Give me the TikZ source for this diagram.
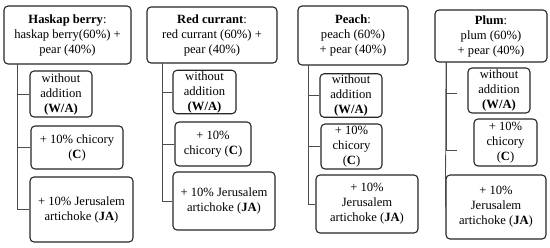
\documentclass[tikz,border=0pt]{standalone}
\usepackage{fontspec}
\setmainfont{Liberation Serif}
\colorlet{boxline}{black!85}
\colorlet{treeline}{black!70}

\begin{document}
\begin{tikzpicture}[x=1pt, y=-1pt,
    mainbox/.style={draw=boxline, line width=1.1pt, rounded corners=4pt, align=center,
      inner sep=1pt, font=\fontsize{12.6}{15}\selectfont},
    subbox/.style={mainbox},
    trunk/.style={draw=treeline, line width=0.8pt}]
    \useasboundingbox (0,0) rectangle (550,247);
    %--- Haskap berry ---
    \node[mainbox, minimum width=127pt, minimum height=58pt] (hk) at (67.5,35){\textbf{Haskap berry}:\\haskap berry(60\%) +\\pear (40\%)};
    \node[subbox, minimum width=62pt, minimum height=46pt] (hkWA) at (61,94){without\\addition\\\textbf{(W/A)}};
    \node[subbox, minimum width=92pt, minimum height=43pt] (hkC) at (77,147.5){+ 10\% chicory\\(\textbf{C})};
    \node[subbox, minimum width=103pt, minimum height=65pt] (hkJA) at (81.5,209.5){+ 10\% Jerusalem\\artichoke (\textbf{JA})};
    \coordinate (hkT) at (17,64);
    \draw[trunk] (hkT) |- (hkWA.west);
    \draw[trunk] (hkT) |- (hkC.west);
    \draw[trunk] (hkT) |- (hkJA.west);
    %--- Red currant ---
    \node[mainbox, minimum width=130pt, minimum height=56pt] (rc) at (212,35){\textbf{Red currant}:\\red currant (60\%) +\\pear (40\%)};
    \node[subbox, minimum width=63pt, minimum height=42pt] (rcWA) at (204.5,92){without\\addition\\\textbf{(W/A)}};
    \node[subbox, minimum width=76pt, minimum height=44pt] (rcC) at (213,144){+ 10\%\\chicory (\textbf{C})};
    \node[subbox, minimum width=102pt, minimum height=58pt] (rcJA) at (224,201){+ 10\% Jerusalem\\artichoke (\textbf{JA})};
    \coordinate (rcT) at (162,63);
    \draw[trunk] (rcT) |- (rcWA.west);
    \draw[trunk] (rcT) |- (rcC.west);
    \draw[trunk] (rcT) |- (rcJA.west);
    %--- Peach ---
    \node[mainbox, minimum width=110pt, minimum height=59pt] (pc) at (353,35.5){\textbf{Peach}:\\peach (60\%)\\+ pear (40\%)};
    \node[subbox, minimum width=62pt, minimum height=43pt] (pcWA) at (351,95.5){without\\addition\\\textbf{(W/A)}};
    \node[subbox, minimum width=61pt, minimum height=45pt] (pcC) at (351.5,146.5){+ 10\%\\chicory\\(\textbf{C})};
    \node[subbox, minimum width=102pt, minimum height=58pt] (pcJA) at (367,204){+ 10\%\\Jerusalem\\artichoke (\textbf{JA})};
    \coordinate (pcT) at (308,65);
    \draw[trunk] (pcT) |- (pcWA.west);
    \draw[trunk] (pcT) |- (pcC.west);
    \draw[trunk] (pcT) |- (pcJA.west);
    %--- Plum ---
    \node[mainbox, minimum width=112pt, minimum height=52pt] (pl) at (491,36){\textbf{Plum}:\\plum (60\%)\\+ pear (40\%)};
    \node[subbox, minimum width=62pt, minimum height=45pt] (plWA) at (499,90.5){without\\addition\\\textbf{(W/A)}};
    \node[subbox, minimum width=63pt, minimum height=47pt] (plC) at (505.5,142.5){+ 10\%\\chicory\\(\textbf{C})};
    \node[subbox, minimum width=100pt, minimum height=64pt] (plJA) at (496,207){+ 10\%\\Jerusalem\\artichoke (\textbf{JA})};
    \coordinate (plT) at (446,62);
    \coordinate (plWAend) at (457,93);
    \coordinate (plCend) at (457,150);
    \draw[trunk] (plT) |- (plWAend);
    \draw[trunk] (plT) |- (plCend);
    \draw[trunk] (plT) -- (plJA.west);
\end{tikzpicture}
\end{document}
